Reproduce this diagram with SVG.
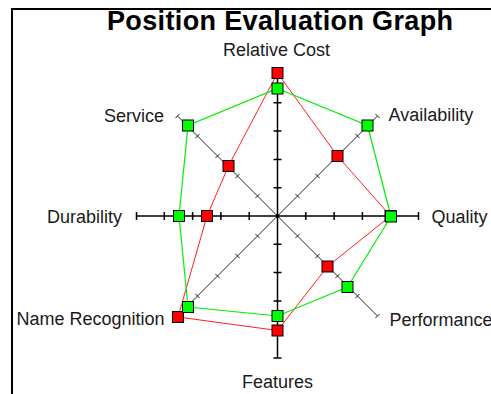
<svg xmlns="http://www.w3.org/2000/svg" width="491" height="394" viewBox="0 0 491 394">
<style>
.title{font-family:"Liberation Sans",Arial,sans-serif;font-weight:bold;font-size:27px;fill:#000}
.lbl{font-family:"Liberation Sans",Arial,sans-serif;font-size:18px;fill:#1a1a1a}
.ax{stroke:#000;stroke-width:1.5;fill:none}
.dg{stroke:#222;stroke-width:1;fill:none}
.red{stroke:#ff2020;stroke-width:1;fill:none}
.grn{stroke:#00ee00;stroke-width:1.2;fill:none}
.rm{fill:#ff0000;stroke:#000;stroke-width:1}
.gm{fill:#00ff00;stroke:#000;stroke-width:1}
</style>
<defs>
<rect id="sq" x="-5.5" y="-5.5" width="11" height="11"/>
</defs>
<rect width="491" height="394" fill="#fff"/>
<path d="M12,394 V9 H491" fill="none" stroke="#000" stroke-width="2"/>
<text class="title" x="280" y="30" text-anchor="middle" textLength="346" lengthAdjust="spacing">Position Evaluation Graph</text>
<g id="axes">
<path class="dg" d="M177.5,116 L377.5,316 M177.5,316 L377.5,116"/>
<path class="dg" d="M295.4,238.1 l4.2,-4.2 M315.4,258.1 l4.2,-4.2 M335.4,278.1 l4.2,-4.2 M355.4,298.1 l4.2,-4.2 M375.4,318.1 l4.2,-4.2 M255.4,198.1 l4.2,-4.2 M235.4,178.1 l4.2,-4.2 M215.4,158.1 l4.2,-4.2 M195.4,138.1 l4.2,-4.2 M175.4,118.1 l4.2,-4.2"/>
<path class="dg" d="M295.4,193.9 l4.2,4.2 M315.4,173.9 l4.2,4.2 M335.4,153.9 l4.2,4.2 M355.4,133.9 l4.2,4.2 M375.4,113.9 l4.2,4.2 M255.4,233.9 l4.2,4.2 M235.4,253.9 l4.2,4.2 M215.4,273.9 l4.2,4.2 M195.4,293.9 l4.2,4.2 M175.4,313.9 l4.2,4.2"/>
<path class="ax" d="M136,216 H419 M277.5,74.5 V357.5"/>
<path class="ax" d="M249.2,212 v8 M220.9,212 v8 M192.6,212 v8 M164.3,212 v8 M136.5,212 v8 M305.8,212 v8 M334.1,212 v8 M362.4,212 v8 M390.7,212 v8 M418.5,212 v8"/>
<path class="ax" d="M273.5,187.7 h8 M273.5,159.4 h8 M273.5,131.1 h8 M273.5,102.8 h8 M273.5,74.5 h8 M273.5,244.3 h8 M273.5,272.6 h8 M273.5,300.9 h8 M273.5,329.2 h8 M273.5,358 h8"/>
<circle cx="277.5" cy="216" r="2" fill="#000"/>
</g>
<g id="labels">
<text class="lbl" x="276.5" y="56" text-anchor="middle">Relative Cost</text>
<text class="lbl" x="388.5" y="120.5">Availability</text>
<text class="lbl" x="431.5" y="222.5">Quality</text>
<text class="lbl" x="389.5" y="326">Performance</text>
<text class="lbl" x="277.5" y="387.5" text-anchor="middle">Features</text>
<text class="lbl" x="164.5" y="325" text-anchor="end">Name Recognition</text>
<text class="lbl" x="122" y="222.5" text-anchor="end">Durability</text>
<text class="lbl" x="164" y="121.5" text-anchor="end">Service</text>
</g>
<g id="connectors">
<polygon class="red" points="277.5,73 337.5,156 390.5,216 327.5,266.5 277.5,330.5 178,317 207,216 228.5,166"/>
<polygon class="grn" points="277.5,88.5 367.5,125.5 391,216.5 347.5,287 277.5,316 188,307 179,216 188,125.5"/>
</g>
<g id="red-relative-cost"><use href="#sq" class="rm" x="277.5" y="73"/></g>
<g id="red-availability"><use href="#sq" class="rm" x="337.5" y="156"/></g>
<g id="red-quality"><use href="#sq" class="rm" x="390.5" y="216"/></g>
<g id="red-performance"><use href="#sq" class="rm" x="327.5" y="266.5"/></g>
<g id="red-features"><use href="#sq" class="rm" x="277.5" y="330.5"/></g>
<g id="red-name-recognition"><use href="#sq" class="rm" x="178" y="317"/></g>
<g id="red-durability"><use href="#sq" class="rm" x="207" y="216"/></g>
<g id="red-service"><use href="#sq" class="rm" x="228.5" y="166"/></g>
<g id="green-relative-cost"><use href="#sq" class="gm" x="277.5" y="88.5"/></g>
<g id="green-availability"><use href="#sq" class="gm" x="367.5" y="125.5"/></g>
<g id="green-quality"><use href="#sq" class="gm" x="391" y="216.5"/></g>
<g id="green-performance"><use href="#sq" class="gm" x="347.5" y="287"/></g>
<g id="green-features"><use href="#sq" class="gm" x="277.5" y="316"/></g>
<g id="green-name-recognition"><use href="#sq" class="gm" x="188" y="307"/></g>
<g id="green-durability"><use href="#sq" class="gm" x="179" y="216"/></g>
<g id="green-service"><use href="#sq" class="gm" x="188" y="125.5"/></g>
</svg>
